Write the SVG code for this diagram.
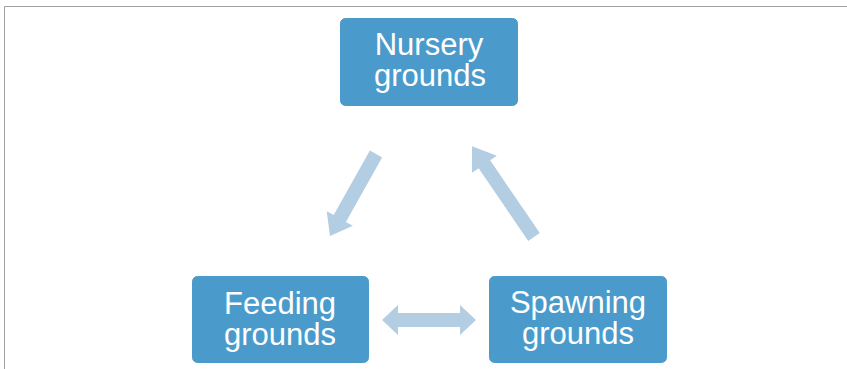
<svg xmlns="http://www.w3.org/2000/svg" width="847" height="369" viewBox="0 0 847 369">
<style>
.node rect{fill:#4A9BCB;stroke:#4A9BCB;stroke-width:1}
.node text{font-family:"Liberation Sans",Arial,sans-serif;font-size:31px;fill:#FFFFFF;text-anchor:middle}
.arrow{fill:#B3CDE3}
</style>
<rect x="0" y="0" width="847" height="369" fill="#FFFFFF"/>
<path d="M4.5 369 V6.5 H847" fill="none" stroke="#A0A0A0" stroke-width="1"/>
<g id="connectors">
<polygon class="arrow" transform="translate(376,154) rotate(119.3)" points="0,-7 74,-7 74,-15 94,0 74,15 74,7 0,7"/>
<polygon class="arrow" transform="translate(534,237) rotate(-124.3)" points="0,-7 88,-7 88,-15 110,0 88,15 88,7 0,7"/>
<polygon class="arrow" points="382,320 398,305 398,313 460,313 460,305 476,320 460,335 460,327 398,327 398,335"/>
</g>
<g id="nursery" class="node">
<rect x="340.5" y="18.5" width="177" height="87" rx="5"/>
<text><tspan x="429" y="55">Nursery</tspan><tspan x="430" y="86">grounds</tspan></text>
</g>
<g id="feeding" class="node">
<rect x="192.5" y="276.5" width="176" height="86" rx="5"/>
<text><tspan x="280" y="314">Feeding</tspan><tspan x="280" y="345">grounds</tspan></text>
</g>
<g id="spawning" class="node">
<rect x="489.5" y="276.5" width="177" height="86" rx="5"/>
<text><tspan x="578" y="313">Spawning</tspan><tspan x="578" y="344">grounds</tspan></text>
</g>
</svg>
